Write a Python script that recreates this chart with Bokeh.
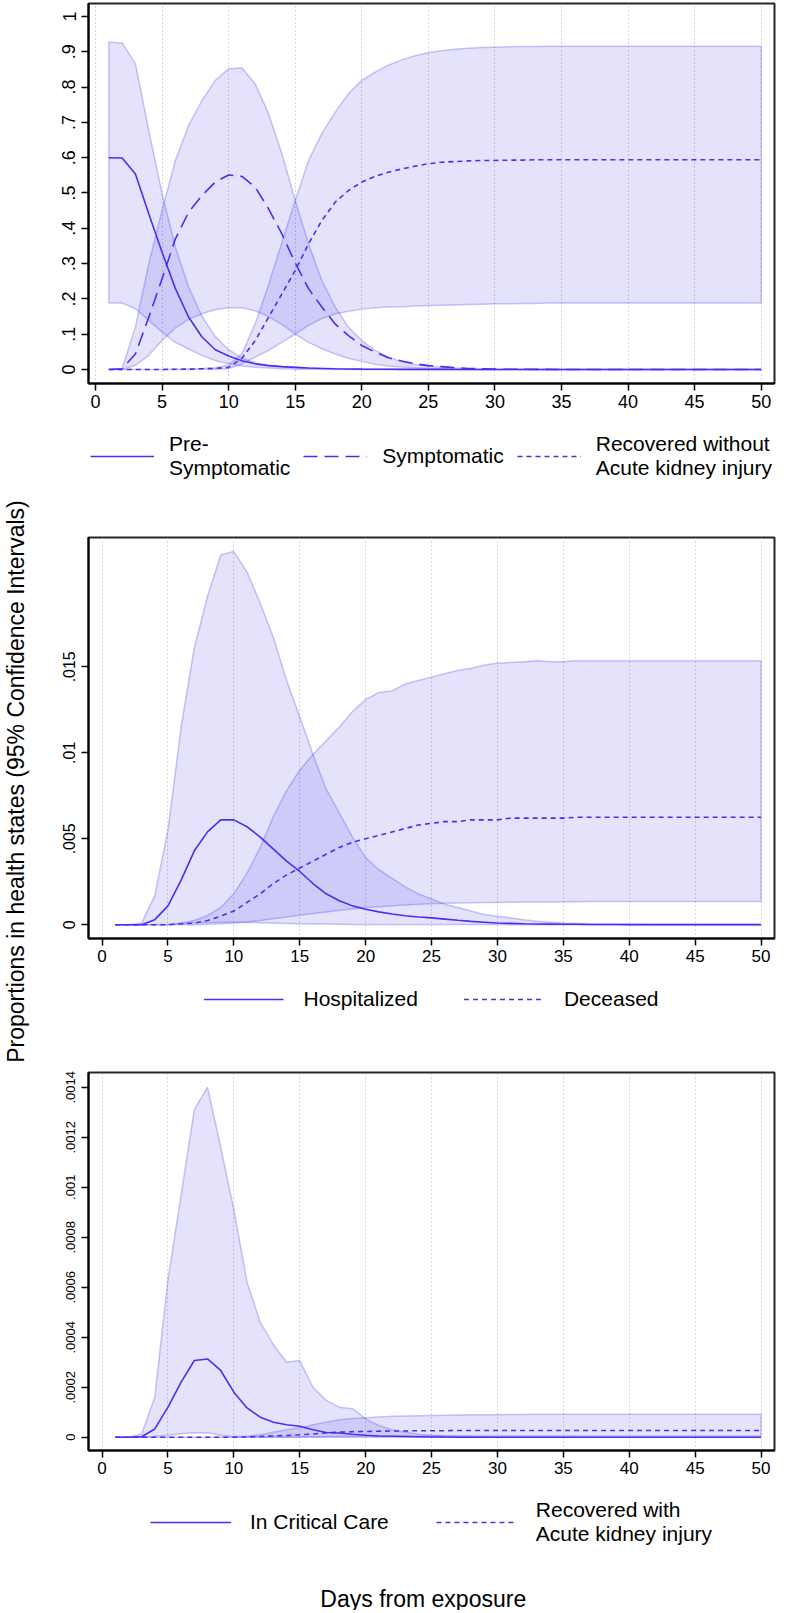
import math
from bokeh.plotting import figure
from bokeh.models import (Range1d, FixedTicker, CustomJSTickFormatter, Legend,
                          LegendItem)
from bokeh.layouts import row, column
from bokeh.embed import file_html
from bokeh.resources import INLINE
from bokeh.core.properties import value

# ---------------- data ----------------
days = list(range(1, 51))
x_ticks = [0, 5, 10, 15, 20, 25, 30, 35, 40, 45, 50]

# Panel 1
pre_sym = [0.600, 0.599, 0.554, 0.441, 0.332, 0.229, 0.148, 0.092, 0.056, 0.038,
           0.025, 0.016, 0.011, 0.008, 0.006, 0.004, 0.003, 0.002, 0.0015, 0.001,
           0.0008, 0.0006, 0.0004, 0.0003, 0.0002, 0.0002, 0.0001, 0.0001, 0.0001, 0.0001,
           0, 0, 0, 0, 0, 0, 0, 0, 0, 0,
           0, 0, 0, 0, 0, 0, 0, 0, 0, 0]
pre_sym_hi = [0.927, 0.925, 0.866, 0.677, 0.498, 0.347, 0.233, 0.150, 0.093, 0.056,
              0.032, 0.019, 0.012, 0.008, 0.006, 0.004, 0.003, 0.002, 0.0015, 0.001,
              0.0008, 0.0006, 0.0004, 0.0003, 0.0002, 0.0002, 0.0001, 0.0001, 0.0001, 0.0001,
              0, 0, 0, 0, 0, 0, 0, 0, 0, 0,
              0, 0, 0, 0, 0, 0, 0, 0, 0, 0]
pre_sym_lo = [0.188, 0.188, 0.172, 0.139, 0.106, 0.077, 0.058, 0.040, 0.025, 0.016,
              0.010, 0.006, 0.004, 0.002, 0.001, 0.001, 0.0005, 0.0003, 0.0002, 0.0001,
              0, 0, 0, 0, 0, 0, 0, 0, 0, 0,
              0, 0, 0, 0, 0, 0, 0, 0, 0, 0,
              0, 0, 0, 0, 0, 0, 0, 0, 0, 0]
sym = [0.000, 0.002, 0.044, 0.148, 0.257, 0.370, 0.446, 0.493, 0.531, 0.551,
       0.547, 0.516, 0.455, 0.384, 0.302, 0.229, 0.177, 0.129, 0.096, 0.068,
       0.049, 0.033, 0.024, 0.016, 0.011, 0.008, 0.005, 0.003, 0.002, 0.001,
       0.0007, 0.0005, 0.0003, 0.0002, 0.0001, 0, 0, 0, 0, 0,
       0, 0, 0, 0, 0, 0, 0, 0, 0, 0]
sym_hi = [0.000, 0.003, 0.120, 0.300, 0.450, 0.592, 0.692, 0.762, 0.819, 0.852,
          0.854, 0.809, 0.724, 0.611, 0.479, 0.356, 0.252, 0.177, 0.120, 0.082,
          0.054, 0.035, 0.022, 0.014, 0.009, 0.006, 0.004, 0.002, 0.001, 0.0005,
          0.0003, 0.0002, 0.0001, 0, 0, 0, 0, 0, 0, 0,
          0, 0, 0, 0, 0, 0, 0, 0, 0, 0]
sym_lo = [0.000, 0.000, 0.012, 0.040, 0.082, 0.118, 0.142, 0.158, 0.170, 0.175,
          0.175, 0.166, 0.150, 0.128, 0.100, 0.077, 0.059, 0.044, 0.032, 0.023,
          0.015, 0.010, 0.007, 0.005, 0.003, 0.002, 0.001, 0.0005, 0, 0,
          0, 0, 0, 0, 0, 0, 0, 0, 0, 0,
          0, 0, 0, 0, 0, 0, 0, 0, 0, 0]
rec = [0, 0, 0, 0, 0, 0.0005, 0.001, 0.002, 0.003, 0.006,
       0.032, 0.082, 0.148, 0.214, 0.280, 0.356, 0.422, 0.474, 0.507, 0.531,
       0.547, 0.559, 0.568, 0.576, 0.583, 0.587, 0.589, 0.591, 0.592, 0.592,
       0.593, 0.593, 0.594, 0.594, 0.594, 0.594, 0.594, 0.594, 0.594, 0.594,
       0.594, 0.594, 0.594, 0.594, 0.594, 0.594, 0.594, 0.594, 0.594, 0.594]
rec_hi = [0, 0, 0, 0, 0, 0.001, 0.002, 0.003, 0.005, 0.012,
          0.045, 0.130, 0.240, 0.360, 0.479, 0.592, 0.668, 0.729, 0.781, 0.819,
          0.842, 0.862, 0.877, 0.889, 0.897, 0.903, 0.907, 0.910, 0.912, 0.913,
          0.914, 0.915, 0.915, 0.916, 0.916, 0.916, 0.916, 0.916, 0.916, 0.916,
          0.916, 0.916, 0.916, 0.916, 0.916, 0.916, 0.916, 0.916, 0.916, 0.916]
rec_lo = [0, 0, 0, 0, 0, 0, 0, 0.0005, 0.001, 0.003,
          0.016, 0.035, 0.054, 0.077, 0.100, 0.125, 0.144, 0.158, 0.165, 0.171,
          0.175, 0.177, 0.178, 0.180, 0.181, 0.182, 0.183, 0.184, 0.185, 0.186,
          0.186, 0.187, 0.187, 0.188, 0.188, 0.188, 0.188, 0.188, 0.188, 0.188,
          0.188, 0.188, 0.188, 0.188, 0.188, 0.188, 0.188, 0.188, 0.188, 0.188]
p1_labels = ["Pre-\nSymptomatic", "Symptomatic", "Recovered without\nAcute kidney injury"]
p1_ticks = [0, 0.1, 0.2, 0.3, 0.4, 0.5, 0.6, 0.7, 0.8, 0.9, 1.0]

# Panel 2
hosp = [0, 0, 0, 0.0003, 0.0011, 0.0026, 0.0043, 0.0054, 0.0061, 0.0061,
        0.0057, 0.0051, 0.0044, 0.0037, 0.0031, 0.0024, 0.0018, 0.0014, 0.0011, 0.0009,
        0.00075, 0.00063, 0.00053, 0.00045, 0.0004, 0.00033, 0.00026, 0.0002, 0.00015, 0.0001,
        0.00008, 0.00006, 0.00005, 0.00004, 0.00003, 0.00003, 0.00002, 0.00002, 0.00002, 0.00001,
        0.00001, 0.00001, 0.00001, 0.00001, 0.00001, 0.00001, 0.00001, 0.00001, 0.00001, 0.00001]
hosp_hi = [0, 0, 0.0001, 0.0017, 0.0055, 0.0115, 0.0161, 0.0191, 0.0215, 0.0217,
           0.0205, 0.0187, 0.0167, 0.0142, 0.0121, 0.0099, 0.0079, 0.0065, 0.0051, 0.0039,
           0.0032, 0.0027, 0.0022, 0.0018, 0.0015, 0.0012, 0.0010, 0.0008, 0.0006, 0.0005,
           0.0004, 0.0003, 0.0002, 0.00015, 0.0001, 0.00008, 0.00006, 0.00005, 0.00004, 0.00003,
           0.00003, 0.00002, 0.00002, 0.00002, 0.00002, 0.00001, 0.00001, 0.00001, 0.00001, 0.00001]
hosp_lo = [0, 0, 0, 0, 0.00002, 0.00006, 0.0001, 0.00013, 0.00015, 0.00015,
           0.00014, 0.00012, 0.0001, 0.00008, 0.00006, 0.00005, 0.00004, 0.00003, 0.00002, 0.00002,
           0.00001, 0.00001, 0.00001, 0.00001, 0.00001, 0.00001, 0.00001, 0.00001, 0.00001, 0.00001,
           0, 0, 0, 0, 0, 0, 0, 0, 0, 0,
           0, 0, 0, 0, 0, 0, 0, 0, 0, 0]
dec = [0, 0, 0, 0, 0, 0.00006, 0.0001, 0.00025, 0.0005, 0.0008,
       0.0013, 0.0018, 0.0024, 0.0029, 0.0033, 0.0037, 0.0041, 0.0045, 0.0048, 0.0050,
       0.0052, 0.0054, 0.0056, 0.0058, 0.0059, 0.0060, 0.0060, 0.0061, 0.0061, 0.0061,
       0.0062, 0.0062, 0.0062, 0.0062, 0.0062, 0.00625, 0.00625, 0.00625, 0.00625, 0.00625,
       0.00625, 0.00625, 0.00625, 0.00625, 0.00625, 0.00625, 0.00625, 0.00625, 0.00625, 0.00625]
dec_hi = [0, 0, 0, 0, 0, 0.0001, 0.00025, 0.00054, 0.0010, 0.0018,
          0.0030, 0.0045, 0.0063, 0.0078, 0.0090, 0.0099, 0.0107, 0.0115, 0.0124, 0.0131,
          0.0135, 0.0136, 0.0140, 0.0142, 0.0144, 0.0146, 0.0148, 0.0149, 0.0151, 0.0152,
          0.01525, 0.0153, 0.01535, 0.0153, 0.0153, 0.01535, 0.01535, 0.01535, 0.01535, 0.01535,
          0.01535, 0.01535, 0.01535, 0.01535, 0.01535, 0.01535, 0.01535, 0.01535, 0.01535, 0.01535]
dec_lo = [0, 0, 0, 0, 0, 0, 0, 0.00003, 0.00006, 0.0001,
          0.00017, 0.00025, 0.00035, 0.00045, 0.00055, 0.00065, 0.00075, 0.00085, 0.00092, 0.0010,
          0.00105, 0.0011, 0.00115, 0.0012, 0.00122, 0.00125, 0.00127, 0.00128, 0.0013, 0.0013,
          0.00131, 0.00132, 0.00133, 0.00133, 0.00134, 0.00134, 0.00135, 0.00135, 0.00135, 0.00135,
          0.00135, 0.00135, 0.00135, 0.00135, 0.00135, 0.00135, 0.00135, 0.00135, 0.00135, 0.00135]
p2_labels = ["Hospitalized", "Deceased"]
p2_ticks = [0, 0.005, 0.01, 0.015]

# Panel 3
crit = [0, 0, 0.000002, 0.000033, 0.00012, 0.00022, 0.000307, 0.000313, 0.000267, 0.00018,
        0.000117, 0.00008, 0.00006, 0.00005, 0.000044, 0.00003, 0.000019, 0.000017, 0.000012, 0.000008,
        0.000005, 0.000004, 0.000003, 0.000002, 0.000001, 0.000001, 0, 0, 0, 0,
        0, 0, 0, 0, 0, 0, 0, 0, 0, 0,
        0, 0, 0, 0, 0, 0, 0, 0, 0, 0]
crit_hi = [0, 0, 0.000013, 0.00016, 0.00063, 0.00097, 0.00131, 0.0014, 0.00116, 0.00091,
           0.00062, 0.00046, 0.00037, 0.0003, 0.000307, 0.0002, 0.000147, 0.00012, 0.000114, 0.000073,
           0.000047, 0.00003, 0.00002, 0.000012, 0.000008, 0.000005, 0.000004, 0.000003, 0.000002, 0.000001,
           0.000001, 0.000001, 0.000001, 0.000001, 0.000001, 0, 0, 0, 0, 0,
           0, 0, 0, 0, 0, 0, 0, 0, 0, 0]
crit_lo = [0, 0, 0, 0.000003, 0.000008, 0.000014, 0.000018, 0.000018, 0.000008, 0.000002,
           0.000001, 0, 0, 0, 0, 0, 0, 0, 0, 0,
           0, 0, 0, 0, 0, 0, 0, 0, 0, 0,
           0, 0, 0, 0, 0, 0, 0, 0, 0, 0,
           0, 0, 0, 0, 0, 0, 0, 0, 0, 0]
aki = [0, 0, 0, 0, 0, 0, 0, 0, 0, 0,
       0.000001, 0.000003, 0.000005, 0.000007, 0.0000096, 0.000013, 0.000017, 0.00002, 0.000022, 0.000023,
       0.000024, 0.000025, 0.000025, 0.000026, 0.000026, 0.000026, 0.000027, 0.000027, 0.000027, 0.000027,
       0.000027, 0.000027, 0.000027, 0.000027, 0.000027, 0.000027, 0.000027, 0.000027, 0.000027, 0.000027,
       0.000027, 0.000027, 0.000027, 0.000027, 0.000027, 0.000027, 0.000027, 0.000027, 0.000027, 0.000027]
aki_hi = [0, 0, 0, 0, 0, 0, 0, 0, 0.000001, 0.000002,
          0.000004, 0.00001, 0.00002, 0.00003, 0.000038, 0.00005, 0.00006, 0.00007, 0.000075, 0.000078,
          0.000081, 0.000084, 0.000085, 0.000086, 0.000087, 0.000088, 0.000089, 0.00009, 0.00009, 0.00009,
          0.000091, 0.000091, 0.000092, 0.000092, 0.000092, 0.000092, 0.000092, 0.000092, 0.000092, 0.000092,
          0.000092, 0.000092, 0.000092, 0.000092, 0.000092, 0.000092, 0.000092, 0.000092, 0.000092, 0.000092]
aki_lo = [0, 0, 0, 0, 0, 0, 0, 0, 0, 0,
          0, 0, 0.000001, 0.000001, 0.000002, 0.000002, 0.000003, 0.000003, 0.000004, 0.000004,
          0.000004, 0.000004, 0.000004, 0.000004, 0.000005, 0.000005, 0.000005, 0.000005, 0.000005, 0.000005,
          0.000005, 0.000005, 0.000005, 0.000005, 0.000005, 0.000005, 0.000005, 0.000005, 0.000005, 0.000005,
          0.000005, 0.000005, 0.000005, 0.000005, 0.000005, 0.000005, 0.000005, 0.000005, 0.000005, 0.000005]
p3_labels = ["In Critical Care", "Recovered with\nAcute kidney injury"]
p3_ticks = [0, 0.0002, 0.0004, 0.0006, 0.0008, 0.001, 0.0012, 0.0014]

y_title = "Proportions in health states (95% Confidence Intervals)"
x_title = "Days from exposure"

# ---------------- styling ----------------
FONT = "Liberation Sans"
LINE = "#4a2ff0"
BAND = "#5046eb"
SOLID, LONG, SHORT = "solid", "14 7", "5 4"
W = 758          # strip (34) + W = full window width
MBL, MBR = 54, 18

fmt_code = """
if (Math.abs(tick) < 1e-12) { return "0"; }
var s = tick.toFixed(6).replace(/0+$/, '').replace(/\\.$/, '');
return s.replace(/^0\\./, '.');
"""


def make_fig(h, mbt, mbb, xr, yr, yticks, xsize, ysize):
    p = figure(width=W, height=h, min_border_left=MBL, min_border_right=MBR,
               min_border_top=mbt, min_border_bottom=mbb,
               x_range=Range1d(*xr), y_range=Range1d(*yr),
               output_backend="svg", toolbar_location=None)
    p.outline_line_color = "black"
    p.outline_line_width = 2
    p.outline_line_alpha = 0.85
    p.background_fill_color = "white"
    p.border_fill_color = "white"
    p.xaxis.ticker = FixedTicker(ticks=x_ticks)
    p.yaxis.ticker = FixedTicker(ticks=yticks)
    p.yaxis.formatter = CustomJSTickFormatter(code=fmt_code)
    p.yaxis.major_label_orientation = "vertical"
    for ax in (p.xaxis, p.yaxis):
        ax.axis_line_width = 2
        ax.axis_line_color = "black"
        ax.major_tick_in = 0
        ax.major_tick_out = 7
        ax.major_tick_line_width = 1.5
        ax.minor_tick_line_color = None
        ax.major_label_text_font = FONT
        ax.major_label_text_color = "black"
    p.xaxis.major_label_text_font_size = xsize
    p.yaxis.major_label_text_font_size = ysize
    p.xaxis.major_label_standoff = 4
    p.yaxis.major_label_standoff = 6
    p.xgrid.ticker = FixedTicker(ticks=x_ticks)
    p.xgrid.grid_line_color = "#aaaaaa"
    p.xgrid.grid_line_dash = "1 3"
    p.xgrid.grid_line_width = 1
    p.ygrid.grid_line_color = None
    return p


def band(p, lo, hi):
    xs = days + days[::-1]
    ys = hi + lo[::-1]
    p.patch(xs, ys, fill_color=BAND, fill_alpha=0.15,
            line_color=BAND, line_alpha=0.3, line_width=1.5)


def legend_fig(h, labels, dashes, glyph_w, standoff, spacing, location, margin):
    f = figure(width=W, height=h, min_border_left=MBL, min_border_right=MBR,
               min_border_top=0, min_border_bottom=0,
               x_range=Range1d(0, 1), y_range=Range1d(h, 0),
               x_axis_type=None, y_axis_type=None,
               output_backend="svg", toolbar_location=None)
    f.outline_line_color = None
    f.xgrid.grid_line_color = None
    f.ygrid.grid_line_color = None
    items = []
    for lab, d in zip(labels, dashes):
        # key-only renderer: its two points lie outside the visible range
        r = f.line(x=[-5, -4], y=[-5, -5], line_color=LINE, line_width=1.6, line_dash=d)
        items.append(LegendItem(label=lab, renderers=[r]))
    leg = Legend(items=items, orientation="horizontal", location=location)
    leg.label_text_font = FONT
    leg.label_text_font_size = "21px"
    leg.label_text_color = "black"
    leg.glyph_width = glyph_w
    leg.glyph_height = 20
    leg.label_standoff = standoff
    leg.spacing = spacing
    leg.padding = 0
    leg.margin = margin
    leg.border_line_color = None
    leg.background_fill_alpha = 0
    f.add_layout(leg)
    return f


# ---------------- panel 1 ----------------
p1 = make_fig(423, 3, 40, (-0.526, 51.0), (-0.0397, 1.0368), p1_ticks, "18px", "18px")
band(p1, pre_sym_lo, pre_sym_hi)
band(p1, sym_lo, sym_hi)
band(p1, rec_lo, rec_hi)
p1.line(days, pre_sym, line_color=LINE, line_width=1.6, line_dash=SOLID)
p1.line(days, sym, line_color=LINE, line_width=1.6, line_dash=LONG)
p1.line(days, rec, line_color=LINE, line_width=1.6, line_dash=SHORT)
l1 = legend_fig(66, p1_labels, [SOLID, LONG, SHORT], 64, 15, 13, "center", 0)

# ---------------- panel 2 ----------------
p2 = make_fig(489, 48, 40, (-1.03, 51.02), (-0.000797, 0.022517), p2_ticks, "17px", "16px")
band(p2, hosp_lo, hosp_hi)
band(p2, dec_lo, dec_hi)
p2.line(days, hosp, line_color=LINE, line_width=1.6, line_dash=SOLID)
p2.line(days, dec, line_color=LINE, line_width=1.6, line_dash=SHORT)
l2 = legend_fig(42, p2_labels, [SOLID, SHORT], 80, 20, 46, "center", 0)

# ---------------- panel 3 ----------------
p3 = make_fig(470, 52, 40, (-1.03, 51.02), (-0.0000532, 0.001459), p3_ticks, "17px", "13px")
band(p3, crit_lo, crit_hi)
band(p3, aki_lo, aki_hi)
p3.line(days, crit, line_color=LINE, line_width=1.6, line_dash=SOLID)
p3.line(days, aki, line_color=LINE, line_width=1.6, line_dash=SHORT)
l3 = legend_fig(120, p3_labels, [SOLID, SHORT], 81, 19, 47, "top_center", 8)
l3.text(x=[0.488], y=[108], text=[x_title], text_align="center", text_baseline="middle",
        text_font=value(FONT), text_font_size=value("23px"), text_color="black")

# ---------------- y title strip ----------------
TOTAL_H = 423 + 66 + 489 + 42 + 470 + 120
strip = figure(width=34, height=TOTAL_H, x_range=Range1d(0, 34), y_range=Range1d(TOTAL_H, 0),
               x_axis_type=None, y_axis_type=None, min_border=0,
               output_backend="svg", toolbar_location=None)
strip.outline_line_color = None
strip.xgrid.grid_line_color = None
strip.ygrid.grid_line_color = None
strip.text(x=[15], y=[781], text=[y_title], angle=math.pi / 2,
           text_align="center", text_baseline="middle",
           text_font=value(FONT), text_font_size=value("23px"), text_color="black")

layout = row(strip, column(p1, l1, p2, l2, p3, l3))
open("out.html", "w").write(file_html(layout, INLINE))
